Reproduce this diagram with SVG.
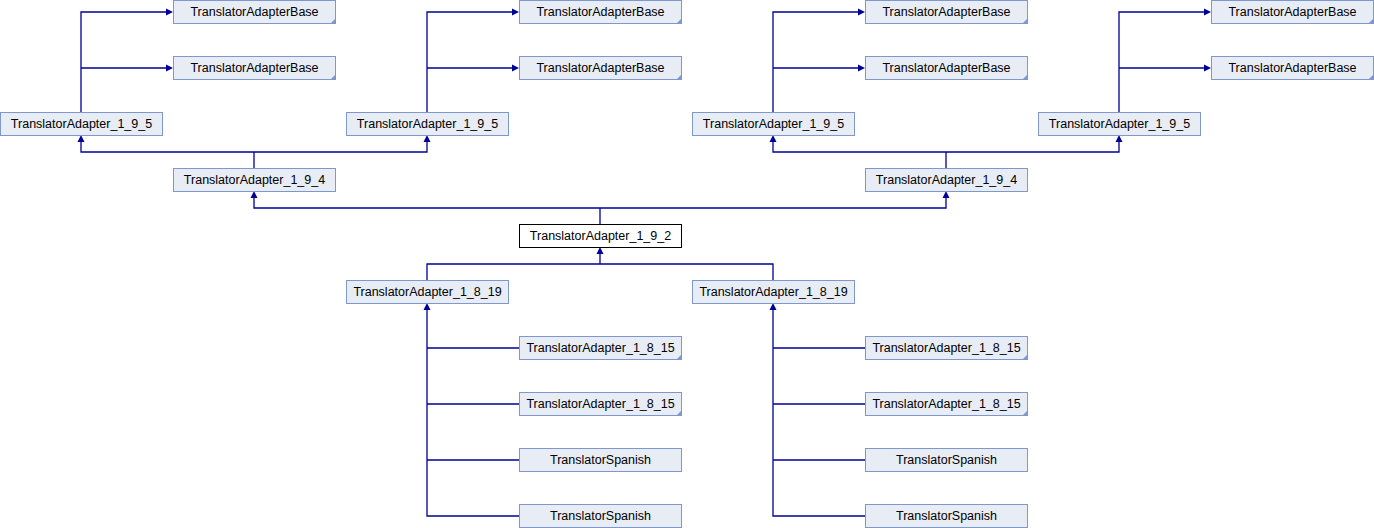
<svg xmlns="http://www.w3.org/2000/svg" width="1374" height="528" viewBox="0 0 1374 528">
<defs>
<style>
.n rect{fill:#e8ecf5;stroke:#7e98cc;stroke-width:1}
.n.cur rect{fill:#ffffff;stroke:#000000}
.n text{font-family:"Liberation Sans",Arial,sans-serif;font-size:12.5px;fill:#000000;text-anchor:middle}
.n .c{fill:#7e98cc;stroke:none}
#edges path{fill:none;stroke:#000096;stroke-width:1.3}
#edges polygon{fill:#000096;stroke:none}
</style>
</defs>
<rect width="1374" height="528" fill="#ffffff"/>
<g id="edges">
<path d="M81,112V12H167M81,68H167"/>
<path d="M427,112V12H513M427,68H513"/>
<path d="M773,112V12H859M773,68H859"/>
<path d="M1119,112V12H1205M1119,68H1205"/>
<polygon points="173,12 166,8.5 166,15.5"/>
<polygon points="173,68 166,64.5 166,71.5"/>
<polygon points="519,12 512,8.5 512,15.5"/>
<polygon points="519,68 512,64.5 512,71.5"/>
<polygon points="865,12 858,8.5 858,15.5"/>
<polygon points="865,68 858,64.5 858,71.5"/>
<polygon points="1211,12 1204,8.5 1204,15.5"/>
<polygon points="1211,68 1204,64.5 1204,71.5"/>
<path d="M254,168V152M81,141V152H427V141"/>
<path d="M946,168V152M773,141V152H1119V141"/>
<polygon points="81,135 77.5,142 84.5,142"/>
<polygon points="427,135 423.5,142 430.5,142"/>
<polygon points="773,135 769.5,142 776.5,142"/>
<polygon points="1119,135 1115.5,142 1122.5,142"/>
<path d="M600,224V208M254,197V208H946V197"/>
<polygon points="254,191 250.5,198 257.5,198"/>
<polygon points="946,191 942.5,198 949.5,198"/>
<path d="M427,280V264H773V280M600,264V253"/>
<polygon points="600,247 596.5,254 603.5,254"/>
<path d="M427,309V516H519M427,348H519M427,404H519M427,460H519"/>
<path d="M773,309V516H865M773,348H865M773,404H865M773,460H865"/>
<polygon points="427,303 423.5,310 430.5,310"/>
<polygon points="773,303 769.5,310 776.5,310"/>
</g>
<g id="base1" class="n"><rect x="173.5" y="0.5" width="162" height="23"/><polygon class="c" points="335,19 335,23 331,23"/><text x="254.5" y="15.5">TranslatorAdapterBase</text></g>
<g id="base2" class="n"><rect x="173.5" y="56.5" width="162" height="23"/><polygon class="c" points="335,75 335,79 331,79"/><text x="254.5" y="71.5">TranslatorAdapterBase</text></g>
<g id="base3" class="n"><rect x="519.5" y="0.5" width="162" height="23"/><polygon class="c" points="681,19 681,23 677,23"/><text x="600.5" y="15.5">TranslatorAdapterBase</text></g>
<g id="base4" class="n"><rect x="519.5" y="56.5" width="162" height="23"/><polygon class="c" points="681,75 681,79 677,79"/><text x="600.5" y="71.5">TranslatorAdapterBase</text></g>
<g id="base5" class="n"><rect x="865.5" y="0.5" width="162" height="23"/><polygon class="c" points="1027,19 1027,23 1023,23"/><text x="946.5" y="15.5">TranslatorAdapterBase</text></g>
<g id="base6" class="n"><rect x="865.5" y="56.5" width="162" height="23"/><polygon class="c" points="1027,75 1027,79 1023,79"/><text x="946.5" y="71.5">TranslatorAdapterBase</text></g>
<g id="base7" class="n"><rect x="1211.5" y="0.5" width="162" height="23"/><polygon class="c" points="1373,19 1373,23 1369,23"/><text x="1292.5" y="15.5">TranslatorAdapterBase</text></g>
<g id="base8" class="n"><rect x="1211.5" y="56.5" width="162" height="23"/><polygon class="c" points="1373,75 1373,79 1369,79"/><text x="1292.5" y="71.5">TranslatorAdapterBase</text></g>
<g id="ta195a" class="n"><rect x="0.5" y="112.5" width="162" height="23"/><text x="81.5" y="127.5">TranslatorAdapter_1_9_5</text></g>
<g id="ta195b" class="n"><rect x="346.5" y="112.5" width="162" height="23"/><text x="427.5" y="127.5">TranslatorAdapter_1_9_5</text></g>
<g id="ta195c" class="n"><rect x="692.5" y="112.5" width="162" height="23"/><text x="773.5" y="127.5">TranslatorAdapter_1_9_5</text></g>
<g id="ta195d" class="n"><rect x="1038.5" y="112.5" width="162" height="23"/><text x="1119.5" y="127.5">TranslatorAdapter_1_9_5</text></g>
<g id="ta194a" class="n"><rect x="173.5" y="168.5" width="162" height="23"/><text x="254.5" y="183.5">TranslatorAdapter_1_9_4</text></g>
<g id="ta194b" class="n"><rect x="865.5" y="168.5" width="162" height="23"/><text x="946.5" y="183.5">TranslatorAdapter_1_9_4</text></g>
<g id="ta192" class="n cur"><rect x="519.5" y="224.5" width="162" height="23"/><text x="600.5" y="239.5">TranslatorAdapter_1_9_2</text></g>
<g id="ta1819a" class="n"><rect x="346.5" y="280.5" width="162" height="23"/><text x="427.5" y="295.5">TranslatorAdapter_1_8_19</text></g>
<g id="ta1819b" class="n"><rect x="692.5" y="280.5" width="162" height="23"/><text x="773.5" y="295.5">TranslatorAdapter_1_8_19</text></g>
<g id="ta1815a" class="n"><rect x="519.5" y="336.5" width="162" height="23"/><polygon class="c" points="681,355 681,359 677,359"/><text x="600.5" y="351.5">TranslatorAdapter_1_8_15</text></g>
<g id="ta1815b" class="n"><rect x="519.5" y="392.5" width="162" height="23"/><polygon class="c" points="681,411 681,415 677,415"/><text x="600.5" y="407.5">TranslatorAdapter_1_8_15</text></g>
<g id="ta1815c" class="n"><rect x="865.5" y="336.5" width="162" height="23"/><polygon class="c" points="1027,355 1027,359 1023,359"/><text x="946.5" y="351.5">TranslatorAdapter_1_8_15</text></g>
<g id="ta1815d" class="n"><rect x="865.5" y="392.5" width="162" height="23"/><polygon class="c" points="1027,411 1027,415 1023,415"/><text x="946.5" y="407.5">TranslatorAdapter_1_8_15</text></g>
<g id="spa" class="n"><rect x="519.5" y="448.5" width="162" height="23"/><text x="600.5" y="463.5">TranslatorSpanish</text></g>
<g id="spb" class="n"><rect x="519.5" y="504.5" width="162" height="23"/><text x="600.5" y="519.5">TranslatorSpanish</text></g>
<g id="spc" class="n"><rect x="865.5" y="448.5" width="162" height="23"/><text x="946.5" y="463.5">TranslatorSpanish</text></g>
<g id="spd" class="n"><rect x="865.5" y="504.5" width="162" height="23"/><text x="946.5" y="519.5">TranslatorSpanish</text></g>
</svg>
